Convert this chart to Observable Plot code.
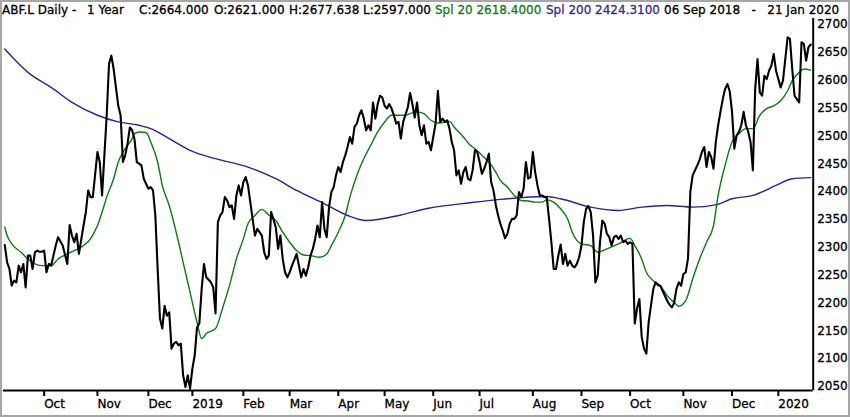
<!DOCTYPE html>
<html><head><meta charset="utf-8">
<script src="https://cdn.jsdelivr.net/npm/d3@7"></script>
<script src="https://cdn.jsdelivr.net/npm/@observablehq/plot@0.6"></script>
<style>
html,body{margin:0;padding:0;background:#fff;}
#wrap{position:relative;width:850px;height:417px;overflow:hidden;background:#fff;font-family:"DejaVu Sans",Verdana,sans-serif;color:#000;}
#frame{position:absolute;left:0;top:0;width:850px;height:417px;box-sizing:border-box;border:2px solid #a6a6a6;pointer-events:none;}
.tp{position:absolute;top:3px;font-size:12px;line-height:14px;white-space:pre;-webkit-text-stroke:0.3px currentColor;}
#chart{position:absolute;left:0;top:18px;}
#chart svg text{stroke:#000;stroke-width:0.3px;}
</style></head><body>
<div id="wrap"><div id="title"></div><div id="chart"></div><div id="frame"></div></div>
<script>
// ---- data ----
const startDate = "2018-09-06";
const ukHolidays = ["2018-12-25","2018-12-26","2019-01-01","2019-04-19","2019-04-22","2019-05-06","2019-05-27","2019-08-26","2019-12-25","2019-12-26","2020-01-01"];
const tickDates = ["2018-10-01","2018-11-01","2018-12-01","2019-01-01","2019-02-01","2019-03-01","2019-04-01","2019-05-01","2019-06-01","2019-07-01","2019-08-01","2019-09-01","2019-10-01","2019-11-01","2019-12-01","2020-01-01"];
const tickLabels = ["Oct","Nov","Dec","2019","Feb","Mar","Apr","May","Jun","Jul","Aug","Sep","Oct","Nov","Dec","2020"];
const yTicks = [2050,2100,2150,2200,2250,2300,2350,2400,2450,2500,2550,2600,2650,2700];

const titleParts = ["ABF.L Daily -", "1 Year", "C:2664.000", "O:2621.000", "H:2677.638", "L:2597.000", "Spl 20 2618.4000", "Spl 200 2424.3100", "06 Sep 2018   \u002D   21 Jan 2020"];

// [trading day since 06 Sep 2018, price]
const closeSeries = [[0,2304],[1,2273],[2,2261],[3,2231],[4,2240],[5,2237],[6,2267],[7,2255],[8,2270],[9,2228],[10,2285],[11,2285],[12,2261],[13,2291],[14,2294],[15,2292],[16,2292],[17,2294],[18,2255],[19,2270],[20,2267],[22,2303],[23,2318],[25,2303],[27,2270],[28,2340],[29,2321],[30,2309],[31,2324],[32,2288],[34,2339],[35,2363],[36,2402],[37,2390],[38,2390],[40,2471],[41,2453],[42,2393],[44,2537],[45,2629],[46,2644],[47,2620],[49,2554],[50,2537],[51,2453],[52,2465],[53,2486],[54,2515],[55,2510],[56,2494],[57,2453],[58,2450],[59,2447],[60,2423],[62,2405],[63,2408],[64,2402],[65,2357],[66,2261],[67,2172],[68,2154],[69,2195],[70,2177],[71,2183],[72,2118],[73,2127],[74,2130],[75,2124],[76,2127],[77,2070],[78,2049],[79,2070],[80,2046],[81,2082],[82,2106],[83,2156],[84,2163],[85,2225],[86,2270],[87,2246],[89,2237],[90,2228],[91,2181],[92,2345],[93,2357],[94,2363],[95,2390],[96,2384],[97,2372],[98,2375],[99,2351],[100,2393],[101,2411],[102,2393],[103,2417],[104,2426],[105,2411],[106,2381],[107,2351],[108,2321],[109,2333],[110,2327],[111,2321],[112,2291],[113,2279],[114,2285],[115,2363],[116,2350],[117,2336],[118,2297],[119,2321],[120,2279],[121,2255],[122,2246],[123,2255],[124,2267],[126,2288],[127,2267],[128,2246],[129,2261],[130,2249],[131,2264],[132,2285],[133,2297],[134,2315],[135,2339],[136,2318],[137,2381],[138,2333],[139,2318],[140,2372],[141,2399],[142,2408],[143,2429],[144,2444],[145,2435],[146,2453],[147,2465],[148,2480],[149,2498],[150,2486],[151,2516],[152,2522],[153,2537],[154,2546],[155,2531],[156,2510],[157,2519],[158,2510],[159,2560],[160,2531],[161,2557],[162,2572],[163,2569],[164,2554],[165,2549],[166,2557],[167,2549],[168,2537],[169,2522],[170,2525],[171,2495],[172,2525],[174,2551],[175,2577],[176,2557],[177,2533],[178,2560],[179,2519],[180,2501],[181,2519],[182,2486],[183,2489],[184,2474],[185,2498],[186,2522],[187,2581],[188,2525],[189,2531],[190,2525],[191,2528],[192,2513],[193,2489],[194,2474],[195,2429],[196,2438],[197,2414],[198,2435],[199,2444],[200,2423],[201,2420],[202,2438],[203,2474],[204,2471],[205,2453],[206,2432],[207,2441],[208,2453],[209,2468],[210,2417],[211,2402],[212,2376],[213,2357],[214,2342],[215,2330],[216,2316],[217,2324],[218,2342],[219,2351],[220,2351],[221,2357],[222,2399],[223,2390],[224,2405],[225,2453],[226,2423],[227,2426],[228,2471],[229,2435],[230,2411],[231,2393],[232,2393],[233,2390],[234,2390],[235,2351],[236,2309],[237,2261],[238,2261],[239,2285],[240,2305],[241,2270],[242,2288],[243,2267],[244,2276],[245,2267],[246,2264],[247,2270],[248,2282],[249,2303],[250,2345],[251,2369],[252,2374],[253,2363],[254,2321],[255,2237],[256,2249],[257,2309],[258,2348],[259,2342],[260,2324],[261,2318],[262,2303],[263,2318],[264,2321],[265,2315],[266,2321],[267,2309],[268,2312],[269,2306],[270,2309],[271,2306],[272,2163],[273,2190],[274,2207],[275,2139],[276,2118],[277,2109],[278,2165],[279,2195],[280,2225],[281,2237],[282,2232],[283,2231],[284,2222],[285,2213],[286,2204],[287,2197],[288,2192],[289,2200],[290,2225],[291,2237],[292,2231],[293,2252],[294,2255],[295,2280],[296,2400],[297,2429],[298,2438],[299,2447],[300,2457],[301,2471],[302,2480],[303,2444],[304,2471],[305,2462],[306,2441],[307,2489],[308,2519],[309,2543],[310,2566],[311,2584],[312,2593],[313,2580],[314,2543],[315,2477],[316,2501],[317,2507],[318,2519],[319,2543],[320,2519],[321,2507],[322,2489],[323,2438],[324,2584],[325,2638],[326,2578],[327,2572],[328,2608],[329,2602],[330,2617],[331,2626],[332,2647],[333,2617],[334,2602],[335,2587],[336,2599],[337,2638],[338,2677],[339,2674],[340,2620],[341,2572],[342,2566],[343,2560],[344,2668],[345,2665],[346,2635],[347,2659],[348,2664]];

const sma20Series = [[0,2336],[1,2321],[3,2306],[7,2291],[10,2279],[13,2270],[16,2267],[20,2267],[23,2279],[27,2288],[30,2294],[33,2300],[37,2315],[40,2339],[42,2363],[44,2390],[47,2423],[49,2453],[52,2477],[55,2495],[56,2504],[58,2507],[61,2506],[63,2489],[66,2453],[68,2411],[71,2375],[74,2327],[77,2273],[80,2219],[83,2165],[85,2136],[87,2145],[91,2154],[94,2190],[97,2231],[100,2279],[103,2315],[105,2342],[108,2357],[111,2368],[114,2358],[117,2348],[120,2327],[123,2309],[126,2294],[129,2286],[132,2285],[136,2282],[139,2288],[141,2303],[144,2327],[147,2357],[149,2390],[152,2429],[155,2459],[158,2483],[161,2507],[164,2525],[167,2537],[170,2537],[173,2537],[175,2540],[178,2543],[181,2540],[184,2528],[187,2523],[192,2526],[194,2516],[198,2498],[201,2483],[203,2477],[206,2465],[209,2453],[212,2435],[214,2420],[217,2408],[220,2393],[223,2384],[226,2383],[229,2381],[232,2381],[234,2385],[237,2381],[240,2369],[243,2351],[245,2327],[249,2306],[253,2303],[256,2291],[260,2297],[265,2306],[270,2316],[272,2303],[275,2279],[277,2255],[280,2240],[283,2231],[286,2213],[289,2201],[291,2194],[294,2204],[297,2243],[300,2279],[303,2309],[306,2339],[308,2393],[311,2447],[314,2489],[317,2504],[320,2513],[323,2513],[326,2537],[329,2549],[332,2554],[335,2563],[338,2581],[340,2599],[343,2614],[345,2620],[348,2618]];

const sma200Series = [[0,2656],[4,2638],[10,2614],[20,2587],[29,2560],[40,2537],[49,2525],[58,2519],[63,2513],[71,2495],[81,2472],[91,2459],[105,2444],[117,2423],[126,2402],[138,2378],[148,2357],[156,2348],[171,2358],[183,2370],[201,2380],[214,2386],[234,2391],[240,2387],[253,2372],[265,2366],[275,2372],[286,2375],[297,2372],[307,2376],[314,2387],[323,2393],[333,2411],[340,2423],[348,2425]];

// ---- helpers ----
const holidaySet = new Set(ukHolidays);
function tradingIndex(dateStr) {
  const end = new Date(dateStr + "T00:00:00Z");
  let n = 0;
  for (let t = new Date(startDate + "T00:00:00Z"); t < end; t.setUTCDate(t.getUTCDate() + 1)) {
    const w = t.getUTCDay();
    if (w === 0 || w === 6) continue;
    if (holidaySet.has(t.toISOString().slice(0, 10))) continue;
    n++;
  }
  return n;
}
const tickIdx = tickDates.map(tradingIndex);
const labelByIdx = new Map(tickIdx.map((t, i) => [t, tickLabels[i]]));
const toRows = s => s.map(([day, value]) => ({day, value}));

// ---- title ----
const titleX = [2, 87, 139, 214, 289, 363, 435, 546, 664];
const titleColor = ["#000","#000","#000","#000","#000","#000","#157a15","#3a2a8e","#000"];
const titleEl = document.getElementById("title");
titleParts.forEach((txt, i) => {
  const s = document.createElement("span");
  s.className = "tp";
  s.style.left = titleX[i] + "px";
  s.style.color = titleColor[i];
  s.textContent = txt;
  titleEl.appendChild(s);
});

// ---- chart ----
const xDomain = [-0.56, 349.05];
const yDomain = [2042.8, 2710.7];
const chart = Plot.plot({
  width: 850,
  height: 399,
  marginLeft: 3,
  marginRight: 37.3,
  marginTop: 0,
  marginBottom: 27,
  x: {domain: xDomain},
  y: {domain: yDomain},
  style: {background: "transparent", overflow: "visible", fontFamily: "DejaVu Sans, Verdana, sans-serif", fontSize: "12px", color: "#000"},
  marks: [
    Plot.line(toRows(sma200Series), {x: "day", y: "value", stroke: "#2f1f98", strokeWidth: 1.4, curve: "monotone-x"}),
    Plot.line(toRows(sma20Series), {x: "day", y: "value", stroke: "#0d7a12", strokeWidth: 1.4, curve: "monotone-x"}),
    Plot.line(toRows(closeSeries), {x: "day", y: "value", stroke: "#000", strokeWidth: 2.1, strokeLinejoin: "round"}),
    Plot.ruleY([yDomain[0]], {stroke: "#000", strokeWidth: 2}),
    Plot.ruleX([xDomain[1]], {stroke: "#000", strokeWidth: 2}),
    Plot.axisX(tickIdx, {anchor: "bottom", tickSize: 6, tickPadding: 3, strokeWidth: 2, textAnchor: "start", dx: 0, tickFormat: d => labelByIdx.get(d), fontSize: 12, label: null}),
    Plot.axisY(yTicks, {anchor: "right", tickSize: 0, tickPadding: 4, tickFormat: d => String(d), fontSize: 12, label: null})
  ]
});
document.getElementById("chart").appendChild(chart);
</script>
</body></html>
